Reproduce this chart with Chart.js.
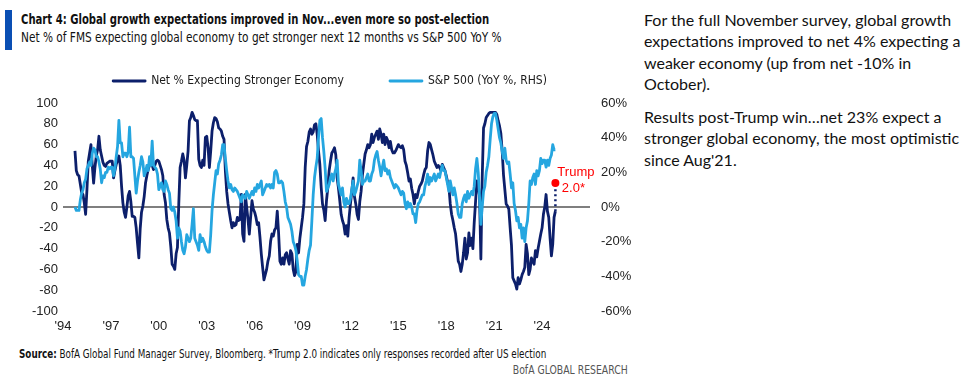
<!DOCTYPE html>
<html>
<head>
<meta charset="utf-8">
<script src="https://cdn.jsdelivr.net/npm/chart.js@4.4.1/dist/chart.umd.min.js"></script>
<style>
  body { margin: 0; width: 975px; height: 391px; background: #fff; position: relative; overflow: hidden;
         font-family: "Liberation Sans", Arial, sans-serif; color: #111; }
  .narrow { font-family: "Liberation Sans Narrow", "Arial Narrow", "DejaVu Sans Condensed", sans-serif; }
  .bar { position: absolute; left: 5px; top: 10px; width: 7px; height: 40px; background: #0a4fb4; }
  #title { position: absolute; left: 21px; top: 10px; font-size: 14px; font-weight: bold; line-height: 18px; white-space: nowrap;
           transform: scaleX(0.8); transform-origin: left center; }
  #subtitle { position: absolute; left: 21px; top: 28px; font-size: 14.5px; line-height: 18px; white-space: nowrap;
              transform: scaleX(0.81); transform-origin: left center; }
  #wrap { position: absolute; left: 0; top: 29px; }
  #note { position: absolute; left: 644px; top: 9px; font-family: Lato, "Open Sans", sans-serif; font-size: 16px;
          line-height: 21.3px; white-space: nowrap; color: #111; }
  #note p { margin: 0 0 12px 0; }
  #source { position: absolute; left: 19px; top: 347px; font-size: 11.5px; white-space: nowrap;
            transform: scaleX(0.85); transform-origin: left center; }
  #brand { position: absolute; right: 347px; top: 363px; font-size: 11.5px; color: #555; white-space: nowrap;
           transform: scaleX(0.9); transform-origin: right center; }
</style>
</head>
<body>
<div class="bar"></div>
<div id="title" class="narrow">Chart 4: Global growth expectations improved in Nov...even more so post-election</div>
<div id="subtitle" class="narrow">Net % of FMS expecting global economy to get stronger next 12 months vs S&amp;P 500 YoY %</div>
<div id="wrap"><canvas id="chart" width="640" height="311"></canvas></div>
<div id="note">
  <p>For the full November survey, global growth<br>expectations improved to net 4% expecting a<br>weaker economy (up from net -10% in<br>October).</p>
  <p>Results post-Trump win…net 23% expect a<br>stronger global economy, the most optimistic<br>since Aug'21.</p>
</div>
<div id="source" class="narrow"><b>Source:</b> BofA Global Fund Manager Survey, Bloomberg. *Trump 2.0 indicates only responses recorded after US election</div>
<div id="brand" class="narrow">BofA GLOBAL RESEARCH</div>

<script>
// monthly readings, Oct 1994 .. Nov 2024
const startYear = 1994;
const startMonth = 9; // October (0 = Jan)

// Net % of FMS expecting a stronger economy (left axis)
const fmsNet = [
  54, 35, 31,
  30, 22, 14, 12, 4, -7, 17, 44, 52, 60, 40, 23,
  38, 49, 55, 68, 55, 49, 43, 40, 39, 42, 43, 44,
  44, 44, 28, 35, 41, 45, 49, 40, 20, 4, -5, -10,
  0, 11, 15, 5, -9, -9, -10, -20, -35, -49, -21, -5,
  1, 10, 23, 30, 36, 40, 44, 40, 36, 40, 44, 45,
  44, 40, 36, 30, 12, 4, -12, -20, -25, -38, -55, -57,
  -60, -45, -39, 3, 38, 44, 51, 45, 28, 40, 54, 83,
  86, 91, 88, 84, 83, 83, 46, 40, 38, 45, 40, 67,
  68, 57, 38, 54, 73, 81, 86, 85, 82, 76, 75, 73,
  68, 65, 35, 15, 3, -5, -13, -20, -15, -18, -17, -10,
  -13, -12, 12, -26, -33, 12, 0, -12, -26, -10, 6, -2,
  -5, -10, -17, -15, -29, -45, -58, -70, -65, -60, -52, -47,
  -33, -26, -28, -22, -20, -4, -25, -52, -55, -49, -55, -46,
  -44, -50, -55, -42, -45, -60, -66, -62, -36, -44, -30, -20,
  -10, 3, 38, 58, 63, 72, 75, 70, 72, 79, 80, 70,
  54, 41, 19, 3, -3, -13, 6, 19, 35, 44, 52, 54,
  57, 50, 28, 18, 6, -7, -13, -17, -26, -18, -28, -10,
  3, 15, 28, 10, 3, -7, -12, 5, 15, 31, 41, 51,
  55, 60, 57, 60, 70, 62, 67, 70, 73, 65, 75, 70,
  62, 70, 60, 67, 64, 57, 63, 55, 52, 52, 54, 57,
  60, 58, 57, 59, 55, 44, 40, 33, 25, 27, 18, 12,
  3, 12, 9, 15, 20, 22, 25, 31, 36, 38, 54, 62,
  60, 55, 50, 44, 41, 38, 40, 38, 35, 41, 38, 35,
  30, 24, 19, 3, -7, -13, -20, -26, -39, -52, -55, -62,
  -55, -44, -30, -50, -44, -25, -37, -30, -40, -15, 5, 25,
  22, 10, -50, 28, 76, 80, 86, 88, 90, 91, 91, 91,
  91, 91, 89, 83, 78, 71, 54, 31, 17, 3, 1, -2,
  -20, -37, -68, -71, -74, -79, -68, -74, -70, -65, -62, -58,
  -36, -45, -65, -60, -49, -52, -55, -42, -48, -40, -33, -26,
  -20, -7, 0, 12, -4, -10, -30, -47, -36, -10, -4
];

// S&P 500 YoY % (right axis)
const spxYoY = [
  0, -2, -2,
  -2, 4, 8, 10, 14, 16, 22, 24, 26, 24, 31, 34,
  33, 29, 29, 26, 22, 14, 18, 17, 20, 20, 23, 22,
  23, 23, 18, 22, 29, 35, 50, 37, 37, 29, 31, 31,
  29, 32, 46, 29, 29, 28, 18, 8, 15, 20, 24, 29,
  26, 18, 20, 24, 21, 29, 24, 38, 24, 23, 22, 19,
  10, 12, 14, 10, 9, 15, 13, 10, 8, -1, -2, 0,
  -3, -8, -18, -12, -14, -20, -25, -27, -23, -16, -18, -20,
  -18, -10, -1, -18, -20, -22, -25, -16, -20, -18, -20, -23,
  -25, -26, -26, -16, -2, 7, 14, 21, 19, 25, 27, 30,
  36, 36, 28, 21, 15, 11, 13, 10, 9, 11, 10, 9,
  7, 5, 3, 7, 6, 5, 9, 7, 5, 7, 9, 7,
  11, 9, 13, 11, 13, 15, 7, 9, 11, 13, 12, 13,
  11, 13, 11, 20, 21, 19, 14, 14, 15, 14, 9, 3,
  0, -6, -8, -10, -14, -20, -22, -25, -31, -39, -40, -40,
  -45, -45, -40, -36, -30, -25, -22, -8, 7, 17, 23, 28,
  40, 50, 51, 40, 32, 22, 9, 11, 13, 17, 19, 15,
  19, 22, 27, 13, 10, 7, 11, 3, 0, 5, 2, 2,
  5, 10, 15, 7, 9, 12, 15, 27, 21, 13, 15, 15,
  17, 19, 15, 15, 19, 21, 27, 30, 32, 27, 23, 18,
  23, 27, 21, 22, 19, 21, 17, 15, 13, 11, 13, 12,
  11, 9, 7, 9, 8, 2, -1, 3, 0, 2, 0, -4,
  -4, -9, -2, 2, 3, 5, 7, 7, 12, 15, 19, 13,
  17, 15, 17, 19, 15, 17, 19, 17, 21, 24, 21, 21,
  17, 13, 9, 15, 11, 7, 11, 7, 2, -4, -6, -6,
  2, 5, 7, 3, 9, 5, 7, 9, 7, 12, 22, 28,
  20, 6, -10, 0, 9, 12, 20, 24, 29, 39, 48, 52,
  54, 54, 50, 45, 40, 37, 32, 28, 34, 27, 25, 26,
  19, 11, 14, 2, -2, -8, -6, -12, -10, -18, -12, -20,
  -12, -8, 2, 15, 13, 17, 19, 13, 21, 18, 21, 28,
  25, 27, 27, 23, 27, 24, 28, 30, 36, 33, 33
];

// post-election reading only
const trumpValue = 23;

const tickYears = [1994, 1997, 2000, 2003, 2006, 2009, 2012, 2015, 2018, 2021, 2024];
const tickLabels = ["'94", "'97", "'00", "'03", "'06", "'09", "'12", "'15", "'18", "'21", "'24"];

const NAVY = '#0c1f6b';
const SKY = '#25a6e0';
const NARROW = '"Liberation Sans Narrow", "Arial Narrow", "DejaVu Sans Condensed", sans-serif';
const TICK_FONT = { family: '"Liberation Sans", Arial, sans-serif', size: 13 };

const toX = (i) => startYear + (startMonth + i) / 12;
const fmsPts = fmsNet.map((v, i) => ({ x: toX(i), y: v }));
const spxPts = spxYoY.map((v, i) => ({ x: toX(i), y: v }));
const lastX = toX(fmsNet.length - 1);

// red "Trump 2.0*" text next to the dot
const trumpLabel = {
  id: 'trumpLabel',
  afterDatasetsDraw(chart) {
    const pt = chart.getDatasetMeta(2).data[1];
    if (!pt) return;
    const ctx = chart.ctx;
    ctx.save();
    ctx.fillStyle = '#ff0000';
    ctx.font = '13px "Liberation Sans", Arial, sans-serif';
    ctx.textAlign = 'center';
    ctx.textBaseline = 'middle';
    ctx.fillText('Trump', pt.x + 20.5, pt.y - 11);
    ctx.fillText('2.0*', pt.x + 18, pt.y + 5);
    ctx.restore();
  }
};

new Chart(document.getElementById('chart'), {
  type: 'line',
  data: {
    datasets: [
      {
        label: 'Net % Expecting Stronger Economy',
        data: fmsPts,
        yAxisID: 'y',
        borderColor: NAVY,
        backgroundColor: NAVY,
        borderWidth: 2.8,
        pointRadius: 0,
        tension: 0,
        borderJoinStyle: 'round',
        order: 1,
      },
      {
        label: 'S&P 500 (YoY %, RHS)',
        data: spxPts,
        yAxisID: 'y2',
        borderColor: SKY,
        backgroundColor: SKY,
        borderWidth: 2.8,
        pointRadius: 0,
        tension: 0,
        borderJoinStyle: 'round',
        order: 0,
      },
      {
        label: 'Trump 2.0',
        data: [{ x: lastX, y: fmsNet[fmsNet.length - 1] }, { x: lastX, y: trumpValue }],
        yAxisID: 'y',
        borderColor: NAVY,
        borderWidth: 2.5,
        borderDash: [2, 3],
        pointRadius: [0, 4],
        pointBackgroundColor: '#ff0000',
        pointBorderWidth: 0,
        order: -1,
      },
    ],
  },
  options: {
    responsive: false,
    animation: false,
    layout: { padding: { left: 20, top: 0, right: 0, bottom: 0 } },
    plugins: {
      tooltip: { enabled: false },
      legend: {
        position: 'top',
        labels: {
          font: { family: NARROW, size: 12 },
          color: '#1a1a1a',
          boxWidth: 32,
          boxHeight: 0,
          padding: 46,
          filter: (item) => item.datasetIndex < 2,
          sort: (a, b) => a.datasetIndex - b.datasetIndex,
        },
      },
    },
    scales: {
      x: {
        type: 'linear',
        min: 1994,
        max: 2027,
        grid: { display: false, drawTicks: false },
        border: { display: false },
        afterBuildTicks: (s) => { s.ticks = tickYears.map((v) => ({ value: v })); },
        afterFit: (s) => { s.height = 29; },
        ticks: {
          autoSkip: false,
          maxRotation: 0,
          padding: 8,
          color: '#222',
          font: TICK_FONT,
          callback: (v) => tickLabels[tickYears.indexOf(v)] ?? '',
        },
      },
      gap: {
        type: 'linear',
        position: 'top',
        grid: { display: false, drawTicks: false },
        border: { display: false },
        ticks: { display: false },
        afterFit: (s) => { s.height = 6; },
      },
      y: {
        position: 'left',
        min: -100,
        max: 100,
        border: { display: false },
        grid: {
          drawTicks: false,
          lineWidth: 2,
          color: (c) => (c.tick && c.tick.value === 0 ? '#7f7f7f' : 'rgba(0,0,0,0)'),
        },
        afterFit: (s) => { s.width = 43; },
        ticks: {
          stepSize: 20,
          padding: 5,
          color: '#222',
          font: TICK_FONT,
        },
      },
      y2: {
        position: 'right',
        min: -60,
        max: 60,
        border: { display: false },
        grid: { display: false, drawTicks: false },
        afterFit: (s) => { s.width = 50; },
        ticks: {
          stepSize: 20,
          padding: 11,
          color: '#222',
          font: TICK_FONT,
          callback: (v) => v + '%',
        },
      },
    },
  },
  plugins: [trumpLabel],
});
</script>
</body>
</html>
